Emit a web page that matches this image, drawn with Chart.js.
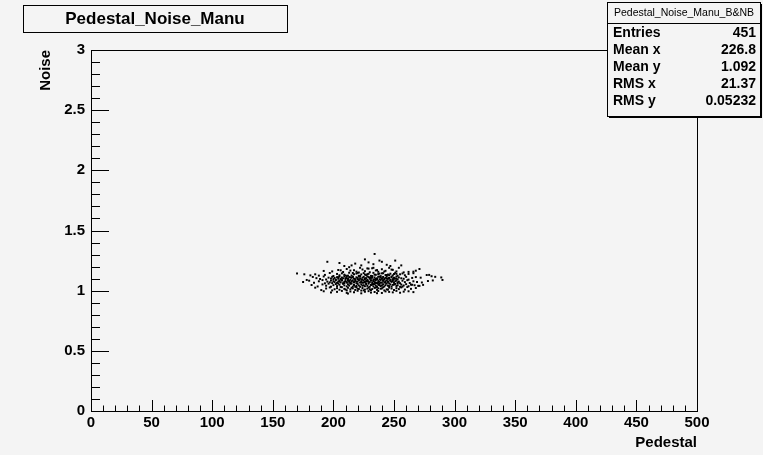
<!DOCTYPE html>
<html>
<head>
<meta charset="utf-8">
<script src="https://cdn.jsdelivr.net/npm/chart.js@4.4.1/dist/chart.umd.min.js"></script>
<style>
  body { margin: 0; background: #f4f4f4; }
  #wrap { width: 763px; height: 455px; }
</style>
</head>
<body>
<div id="wrap"><canvas id="myChart" width="763" height="455"></canvas></div>
<script>
var histTitle = "Pedestal_Noise_Manu";
var statsTitle = "Pedestal_Noise_Manu_B&NB";
var statLabels = ["Entries", "Mean x", "Mean y", "RMS x", "RMS y"];
var statValues = ["451", "226.8", "1.092", "21.37", "0.05232"];
var xTicks = [0, 50, 100, 150, 200, 250, 300, 350, 400, 450, 500];
var yTicks = [0, 0.5, 1, 1.5, 2, 2.5, 3];

// pedestal of each entry, grouped by noise band
var pedestal = [
  // noise ~0.98-1.00
  192,198,203,207,211,214,217,220,223,226,229,231,234,237,240,243,246,249,252,255,258,262,266,212,236,
  // 1.00-1.03
  185,190,194,197,199,201,203,205,207,209,211,212,214,216,218,219,221,223,224,226,
  228,229,231,232,234,236,237,239,241,242,244,246,248,250,252,254,256,259,261,264,
  268,271,210,220,230,240,215,225,235,245,
  // 1.03-1.06
  182,187,191,194,196,198,200,202,203,205,206,208,209,211,212,213,215,216,217,219,
  220,221,222,223,225,226,227,228,229,230,231,232,233,234,235,236,237,238,239,240,
  241,242,243,244,245,247,248,249,251,252,253,255,256,258,260,262,264,267,270,274,
  204,214,218,224,233,238,246,250,257,265,
  // 1.06-1.09
  175,180,184,188,191,193,195,197,198,199,200,201,202,203,204,205,206,207,208,209,
  210,211,212,213,214,215,216,217,218,219,220,221,222,223,224,225,226,227,228,229,
  230,231,232,233,234,235,236,237,238,239,240,241,242,243,244,245,246,247,248,249,
  250,251,252,253,254,255,257,259,261,263,266,269,273,278,282,205,209,213,217,221,
  225,229,233,237,241,245,249,253,207,215,223,231,239,247,211,219,227,235,243,228,
  // 1.09-1.12
  178,183,186,189,192,194,196,198,199,200,201,202,203,204,205,206,207,208,209,210,
  211,212,213,214,215,216,217,218,219,220,221,222,223,224,225,226,227,228,229,230,
  231,232,233,234,235,236,237,238,239,240,241,242,243,244,245,246,247,248,249,250,
  251,252,253,254,256,258,260,262,265,268,272,277,281,284,289,290,206,210,214,218,
  222,226,230,234,238,242,246,250,204,212,220,228,236,244,216,224,232,240,248,252,
  // 1.12-1.15
  170,176,181,185,188,193,197,200,203,205,207,209,211,213,215,217,219,221,223,225,
  227,229,231,233,235,237,239,241,243,245,247,249,251,253,255,257,259,262,266,279,
  210,216,222,228,234,240,246,252,212,220,226,232,238,244,250,
  // 1.15-1.20
  192,199,204,208,211,214,217,219,222,224,226,228,230,233,235,237,240,243,246,249,
  252,254,258,262,266,268,271,213,221,229,236,242,248,206,232,
  // 1.20-1.31
  195,205,215,223,229,234,238,240,251,244,218,209,226,256,233,247
];

var noise = [
  0.995,0.985,0.99,0.998,0.982,0.993,0.987,0.999,0.978,0.991,0.996,0.984,0.989,0.997,0.981,0.994,0.99,0.986,0.998,0.983,0.992,0.995,0.988,0.976,0.979,

  1.025,1.005,1.018,1.027,1.002,1.012,1.021,1.008,1.029,1.015,1.003,1.024,1.011,1.019,1.006,1.028,1.014,1.001,1.022,1.009,
  1.017,1.026,1.004,1.013,1.023,1.007,1.02,1.016,1.028,1.002,1.011,1.025,1.018,1.006,1.021,1.013,1.027,1.009,1.03,1.015,
  1.022,1.04,1.01,1.016,1.012,1.019,1.024,1.003,1.026,1.008,

  1.047,1.035,1.052,1.041,1.058,1.033,1.046,1.055,1.038,1.049,1.031,1.057,1.044,1.036,1.053,1.042,1.059,1.034,1.048,1.039,
  1.056,1.043,1.032,1.051,1.045,1.037,1.054,1.04,1.058,1.033,1.047,1.05,1.036,1.055,1.042,1.031,1.049,1.057,1.038,1.044,
  1.053,1.035,1.046,1.059,1.041,1.052,1.034,1.048,1.056,1.039,1.045,1.032,1.051,1.043,1.054,1.037,1.05,1.045,1.04,1.048,
  1.059,1.057,1.033,1.041,1.055,1.046,1.038,1.052,1.034,1.049,

  1.072,1.083,1.066,1.078,1.088,1.061,1.075,1.069,1.084,1.063,1.079,1.071,1.087,1.065,1.076,1.082,1.068,1.089,1.062,1.074,
  1.08,1.067,1.085,1.073,1.064,1.077,1.086,1.07,1.081,1.062,1.075,1.088,1.068,1.079,1.066,1.084,1.072,1.061,1.083,1.076,
  1.069,1.087,1.064,1.078,1.071,1.085,1.063,1.08,1.074,1.089,1.067,1.082,1.07,1.065,1.086,1.077,1.061,1.081,1.073,1.088,
  1.066,1.079,1.084,1.069,1.075,1.062,1.083,1.071,1.087,1.064,1.078,1.072,1.068,1.08,1.085,1.076,1.063,1.082,1.07,1.088,
  1.067,1.074,1.081,1.065,1.086,1.073,1.079,1.062,1.084,1.077,1.069,1.083,1.066,1.087,1.071,1.075,1.08,1.064,1.078,1.082,

  1.089,1.114,1.104,1.097,1.118,1.093,1.108,1.101,1.115,1.096,1.106,1.092,1.112,1.099,1.117,1.094,1.109,1.103,1.119,1.095,
  1.105,1.098,1.113,1.091,1.107,1.116,1.1,1.093,1.111,1.097,1.119,1.102,1.094,1.108,1.115,1.096,1.104,1.091,1.113,1.099,
  1.106,1.118,1.092,1.11,1.097,1.103,1.116,1.095,1.109,1.1,1.114,1.093,1.107,1.119,1.098,1.105,1.091,1.112,1.096,1.108,
  1.101,1.117,1.094,1.11,1.103,1.099,1.115,1.092,1.106,1.113,1.108,1.13,1.12,1.115,1.11,1.089,1.097,1.104,1.111,1.095,
  1.118,1.102,1.109,1.093,1.116,1.1,1.107,1.098,1.112,1.094,1.105,1.119,1.096,1.103,1.114,1.091,1.108,1.101,1.117,1.099,

  1.143,1.136,1.127,1.136,1.125,1.131,1.147,1.122,1.139,1.128,1.144,1.133,1.121,1.149,1.126,1.137,1.142,1.124,1.135,1.146,
  1.129,1.14,1.123,1.148,1.132,1.138,1.121,1.145,1.13,1.134,1.141,1.127,1.149,1.124,1.136,1.143,1.128,1.139,1.145,1.131,
  1.126,1.147,1.122,1.137,1.133,1.144,1.129,1.14,1.125,1.148,1.134,1.121,1.142,1.13,1.138,

  1.164,1.16,1.172,1.155,1.18,1.167,1.17,1.158,1.19,1.176,1.162,1.185,1.153,1.19,1.168,1.157,1.178,1.165,1.19,1.173,
  1.16,1.19,1.152,1.156,1.158,1.166,1.18,1.195,1.151,1.183,1.171,1.159,1.175,1.169,1.186,

  1.24,1.23,1.21,1.21,1.235,1.305,1.25,1.24,1.25,1.215,1.225,1.205,1.26,1.21,1.22,1.205
];

var points = [];
for (var i = 0; i < Math.min(pedestal.length, noise.length); i++) {
  points.push({ x: pedestal[i], y: noise[i] });
}

var FONT = '"Liberation Sans", Arial, sans-serif';
var BG = '#f4f4f4';

// ROOT-like frame, inward ticks, title and stats boxes
const rootStyle = {
  id: 'rootStyle',
  beforeDatasetsDraw(chart) {
    const ctx = chart.ctx, a = chart.chartArea;
    const xs = chart.scales.x, ys = chart.scales.y;
    ctx.save();
    ctx.strokeStyle = '#000';
    ctx.lineWidth = 1;
    ctx.strokeRect(Math.round(a.left) + 0.5, Math.round(a.top) + 0.5,
                   Math.round(a.right - a.left), Math.round(a.bottom - a.top));
    ctx.beginPath();
    for (let i = 0; i <= 50; i++) {
      const px = Math.round(xs.getPixelForValue(i * 10)) + 0.5;
      const len = i % 5 === 0 ? 11 : 5.5;
      ctx.moveTo(px, a.bottom);
      ctx.lineTo(px, a.bottom - len);
    }
    for (let i = 0; i <= 30; i++) {
      const py = Math.round(ys.getPixelForValue(i / 10)) + 0.5;
      const len = i % 5 === 0 ? 18 : 9;
      ctx.moveTo(a.left, py);
      ctx.lineTo(a.left + len, py);
    }
    ctx.stroke();
    ctx.restore();
  },
  afterDraw(chart) {
    const ctx = chart.ctx, a = chart.chartArea;
    ctx.save();
    ctx.fillStyle = '#000';
    ctx.font = 'bold 15px ' + FONT;
    // axis titles
    ctx.textAlign = 'right';
    ctx.textBaseline = 'alphabetic';
    ctx.fillText('Pedestal', a.right, 447);
    ctx.save();
    ctx.translate(50, 50);
    ctx.rotate(-Math.PI / 2);
    ctx.textAlign = 'right';
    ctx.fillText('Noise', 0, 0);
    ctx.restore();

    // title box
    ctx.fillStyle = BG;
    ctx.fillRect(23, 5, 264, 27);
    ctx.strokeStyle = '#000';
    ctx.strokeRect(23.5, 5.5, 264, 27);
    ctx.fillStyle = '#000';
    ctx.font = 'bold 17px ' + FONT;
    ctx.textAlign = 'center';
    ctx.textBaseline = 'middle';
    ctx.fillText(histTitle, 155, 19.5);

    // stats box with shadow
    ctx.fillStyle = '#000';
    ctx.fillRect(609, 116, 153, 2);
    ctx.fillRect(760, 4, 2, 114);
    ctx.fillStyle = BG;
    ctx.fillRect(607, 2, 153, 114);
    ctx.strokeRect(607.5, 2.5, 153, 114);
    ctx.beginPath();
    ctx.moveTo(607, 23.5);
    ctx.lineTo(760, 23.5);
    ctx.stroke();
    ctx.fillStyle = '#000';
    ctx.font = '10.5px ' + FONT;
    ctx.textAlign = 'center';
    ctx.fillText(statsTitle, 684, 13);
    ctx.font = 'bold 14px ' + FONT;
    for (let i = 0; i < statLabels.length; i++) {
      const y = 33 + i * 17;
      ctx.textAlign = 'left';
      ctx.fillText(statLabels[i], 613, y);
      ctx.textAlign = 'right';
      ctx.fillText(statValues[i], 756, y);
    }
    ctx.restore();
  }
};

const config = {
  type: 'scatter',
  data: {
    datasets: [{
      label: histTitle,
      data: points,
      backgroundColor: '#000',
      borderWidth: 0,
      pointStyle: 'rect',
      pointRadius: 1.4,
      pointHoverRadius: 1.4
    }]
  },
  options: {
    responsive: false,
    animation: false,
    layout: { padding: { left: 30, right: 66, top: 50, bottom: 14 } },
    plugins: { legend: { display: false }, tooltip: { enabled: false } },
    scales: {
      x: {
        type: 'linear',
        min: 0, max: 500,
        afterBuildTicks: (s) => { s.ticks = xTicks.map(v => ({ value: v })); },
        afterFit: (s) => { s.height = 30; },
        grid: { display: false, drawTicks: false },
        border: { display: false },
        ticks: { autoSkip: false, maxRotation: 0, padding: 3, color: '#000',
                 font: { family: FONT, size: 15, weight: 'bold' } }
      },
      y: {
        type: 'linear',
        min: 0, max: 3,
        afterBuildTicks: (s) => { s.ticks = yTicks.map(v => ({ value: v })); },
        afterFit: (s) => { s.width = 61; },
        grid: { display: false, drawTicks: false },
        border: { display: false },
        ticks: { autoSkip: false, padding: 6, color: '#000',
                 font: { family: FONT, size: 15, weight: 'bold' },
                 callback: (v) => String(v) }
      }
    }
  },
  plugins: [rootStyle]
};

var ctx = document.getElementById('myChart');
var myChart = new Chart(ctx, config);
</script>
</body>
</html>
